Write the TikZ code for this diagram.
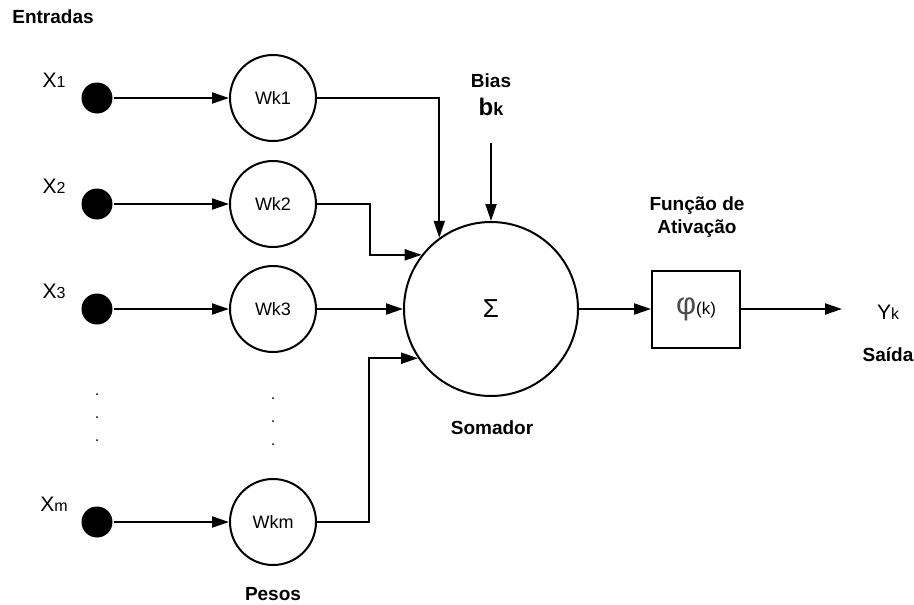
\documentclass[tikz,border=0pt]{standalone}
\usepackage{fontspec}
\setmainfont{Liberation Sans}
\usetikzlibrary{arrows.meta}
\begin{document}
\begin{tikzpicture}[x=1pt,y=-1pt,
  line width=2pt,
  >={Triangle[length=17pt,width=11pt]},
  inputdot/.style={circle,fill=black,draw=none,minimum size=31pt,inner sep=0pt},
  weight/.style={circle,draw,minimum size=86pt,inner sep=0pt,font=\fontsize{18}{21}\selectfont},
  title/.style={font=\bfseries\fontsize{19}{23}\selectfont,align=center,inner sep=0pt},
  varlabel/.style={font=\fontsize{21}{24}\selectfont,inner sep=0pt},
  dotmark/.style={circle,fill=black,inner sep=0pt,minimum size=2pt}]
\useasboundingbox (0,0) rectangle (914,605);

% headings
\node[title] (entradas) at (53,17) {Entradas};
\node[title] (pesos) at (273,594) {Pesos};
\node[title] (somador) at (492,428) {Somador};
\node[title] (bias) at (491,81) {Bias};
\node[font=\bfseries\fontsize{24}{26}\selectfont,inner sep=0pt] (bk) at (491,107) {b{\fontsize{18}{20}\selectfont k}};
\node[title] (funcao) at (697,217) {Função de\\Ativação};
\node[title] (saida) at (888,355) {Saída};

% inputs and weights
\foreach \i/\y/\s in {1/98/1,2/204/2,3/309/3,m/522/m}{
  \node[inputdot] (x\i) at (97,\y) {};
  \node[varlabel] (lx\i) at (54,\y-18) {X{\fontsize{16}{18}\selectfont\s}};
  \node[weight] (w\i) at (273,\y) {Wk\s};
  \draw[->] (x\i) -- (w\i);
}

% ellipsis dots
\foreach \y in {394,417,440}{\node[dotmark] (da\y) at (97,\y) {};}
\foreach \y in {398,421,444}{\node[dotmark] (db\y) at (273,\y) {};}

% summing junction
\node[circle,draw,minimum size=174pt,inner sep=0pt,font=\fontsize{26}{28}\selectfont] (sum) at (491,309) {Σ};

\draw[->] (w1.east) -| (sum.126.7);
\draw[->] (w2.east) -- (370,204) |- (sum.142.5);
\draw[->] (w3.east) -- (sum.west);
\draw[->] (wm.east) -- (369,522) |- (sum.214.3);

\coordinate (biasin) at (491,143);
\draw[->] (biasin) -- (sum.north);

% activation function
\node[draw,minimum width=88pt,minimum height=77pt,inner sep=0pt] (act) at (696,309)
  {\textcolor[gray]{0.3}{\fontsize{31}{32}\selectfont φ}{\fontsize{17}{19}\selectfont(k)}};
\draw[->] (sum.east) -- (act.west);
\coordinate (yout) at (842,309);
\draw[->] (act.east) -- (yout);
\node[varlabel] (yk) at (888,312) {Y{\fontsize{16}{18}\selectfont k}};
\end{tikzpicture}
\end{document}
